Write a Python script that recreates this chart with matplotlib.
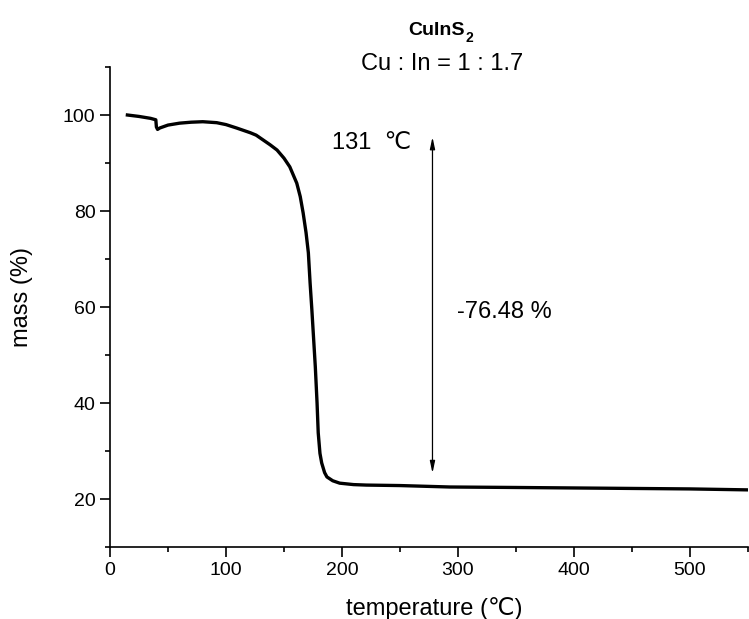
import matplotlib
matplotlib.use("Agg")
import matplotlib.pyplot as plt
from matplotlib.ticker import MultipleLocator

plt.rcParams['font.family'] = ['Liberation Sans', 'DejaVu Sans']

temperature = [15, 25, 35, 39.5, 40, 41, 43, 50, 60, 70, 80, 92, 100, 109, 115,
               121, 126, 132, 138, 144, 150, 155, 161, 164, 166.5, 169, 171,
               172.5, 174, 175.5, 177, 178.5, 179.5, 181, 182.5, 185, 187, 192,
               198, 210, 221, 250, 293, 350, 400, 450, 500, 550]
mass = [100, 99.7, 99.3, 99.0, 97.5, 97.0, 97.3, 97.9, 98.3, 98.5, 98.6, 98.4,
        98.0, 97.3, 96.8, 96.3, 95.8, 94.8, 93.8, 92.7, 91.0, 89.2, 85.8, 83.0,
        79.6, 75.5, 71.3, 65.0, 59.5, 53.5, 47.5, 40.0, 33.8, 29.5, 27.5, 25.5,
        24.6, 23.8, 23.3, 23.0, 22.9, 22.8, 22.5, 22.4, 22.3, 22.2, 22.1, 21.9]

title_main = 'CuInS'
title_sub = '2'
subtitle = 'Cu : In = 1 : 1.7'
xlabel = 'temperature (\u2103)'
ylabel = 'mass (%)'
onset_label = '131  \u2103'
loss_label = '-76.48 %'
arrow_x = 278
arrow_top = 95.4
arrow_bottom = 25.4

W, H = 749, 619
fig = plt.figure(figsize=(W / 100, H / 100), dpi=100)
ax = fig.add_axes([110 / W, (H - 547) / H, (748 - 110) / W, (547 - 67) / H])

ax.plot(temperature, mass, color='black', lw=2.4, solid_joinstyle='round')

ax.set_xlim(0, 550)
ax.set_ylim(10, 110)
ax.xaxis.set_major_locator(MultipleLocator(100))
ax.xaxis.set_minor_locator(MultipleLocator(50))
ax.yaxis.set_minor_locator(MultipleLocator(10))
ax.set_yticks([20, 40, 60, 80, 100])
for s in ['top', 'right']:
    ax.spines[s].set_visible(False)
for s in ['left', 'bottom']:
    ax.spines[s].set_linewidth(1.2)
ax.tick_params(which='major', direction='out', length=7.5, width=1.2, labelsize=14, pad=3)
ax.tick_params(which='minor', direction='out', length=3.6, width=1.2)

ax.set_xlabel(xlabel, fontsize=17)
ax.xaxis.set_label_coords(0.509, -0.104)
ax.set_ylabel(ylabel, fontsize=17)
ax.yaxis.set_label_coords(-0.121, 0.521)

ax.annotate('', xy=(arrow_x, arrow_top), xytext=(arrow_x, arrow_bottom),
            arrowprops=dict(arrowstyle='<|-|>,head_length=0.7,head_width=0.15',
                            color='black', lw=0.9, shrinkA=0, shrinkB=0))
ax.text(191, 94.2, onset_label, fontsize=17, ha='left', va='center')
ax.text(299, 59, loss_label, fontsize=17, ha='left', va='center')

# title with lowered subscript
t_main = fig.text(408 / W, 1 - 35 / H, title_main, fontsize=14, fontweight='bold',
                  ha='left', va='baseline')
fig.canvas.draw()
bb = t_main.get_window_extent()
fig.text((bb.x1 + 1) / W, 1 - 42 / H, title_sub, fontsize=10, fontweight='bold',
         ha='left', va='baseline')
fig.text(442.5 / W, 1 - 70 / H, subtitle, fontsize=17, ha='center', va='baseline')

fig.savefig('out.png', dpi=100)
